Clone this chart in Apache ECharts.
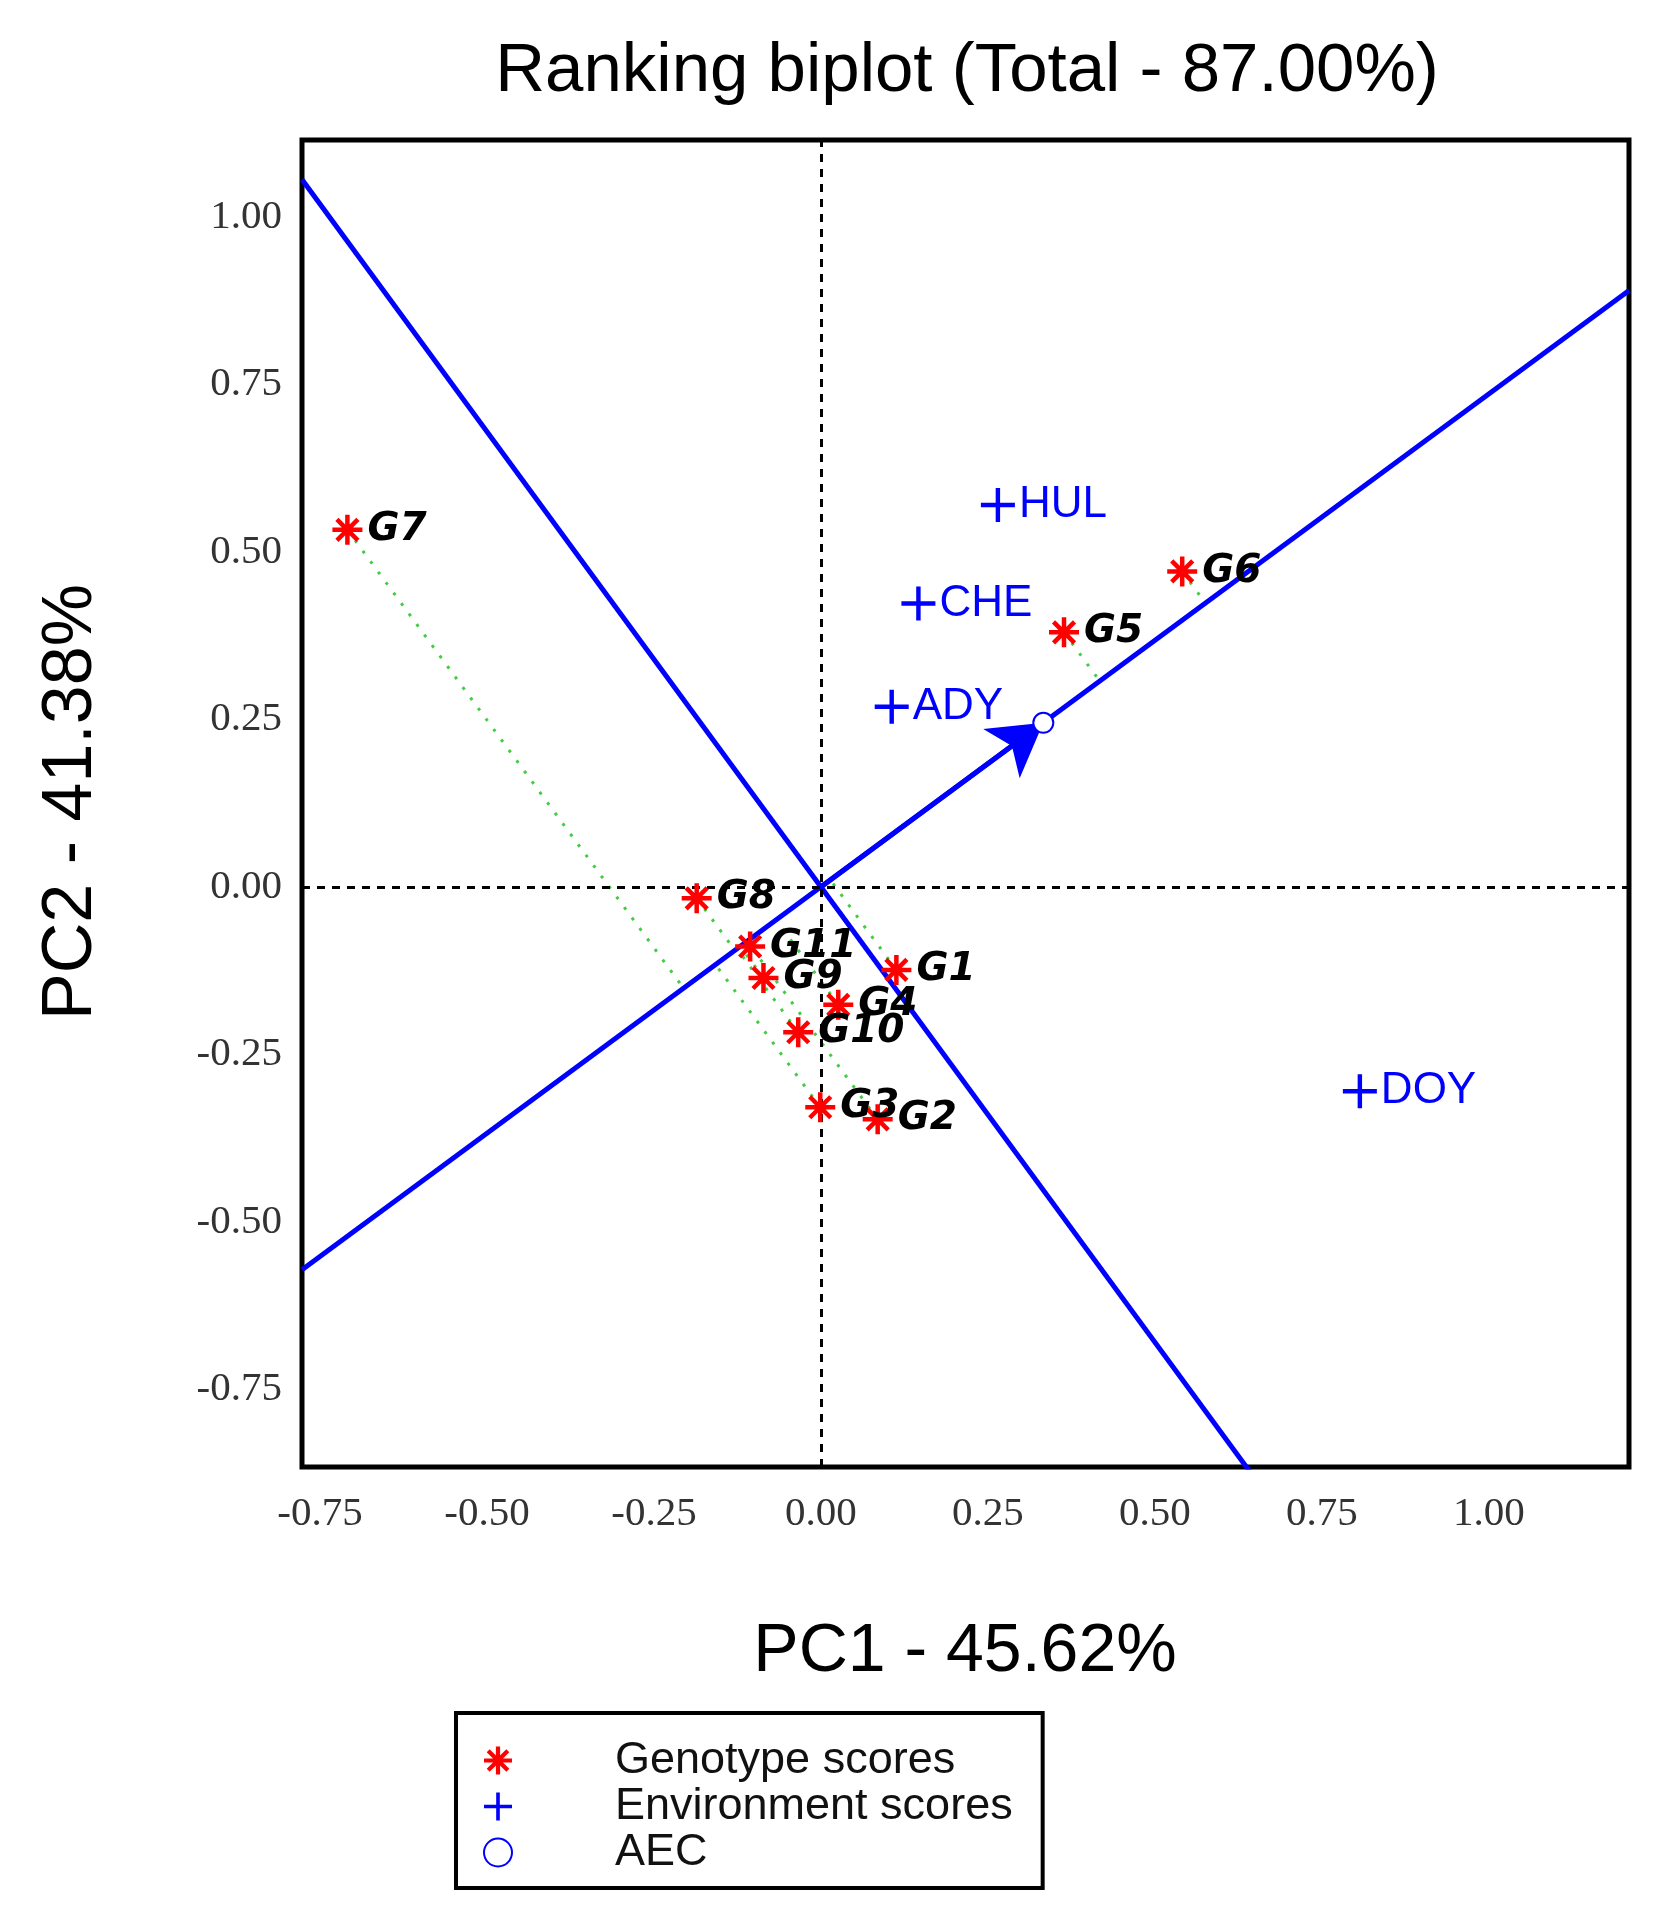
<!DOCTYPE html>
<html>
<head>
<meta charset="utf-8">
<title>Ranking biplot</title>
<script src="https://cdn.jsdelivr.net/npm/echarts@6.0.0/dist/echarts.min.js"></script>
<style>
  html, body { margin: 0; padding: 0; background: #fff; }
  #main { width: 1665px; height: 1916px; }
</style>
</head>
<body>
<div id="main"></div>
<script>
// genotype scores (PC1, PC2)
const genotypeNames = ['G1', 'G2', 'G3', 'G4', 'G5', 'G6', 'G7', 'G8', 'G9', 'G10', 'G11'];
const genotypeX = [0.113, 0.085, -0.001, 0.026, 0.364, 0.541, -0.709, -0.186, -0.086, -0.034, -0.106];
const genotypeY = [-0.124, -0.347, -0.329, -0.176, 0.380, 0.471, 0.533, -0.017, -0.136, -0.217, -0.089];

// environment scores
const envNames = ['HUL', 'CHE', 'ADY', 'DOY'];
const envX = [0.265, 0.146, 0.106, 0.807];
const envY = [0.570, 0.423, 0.269, -0.305];

// average environment coordinate
const aecPoint = [0.333, 0.245];

// axes
const xRange = [-0.777, 1.21];
const yRange = [-0.866, 1.115];
const xTicks = [-0.75, -0.50, -0.25, 0.00, 0.25, 0.50, 0.75, 1.00];
const yTicks = [-0.75, -0.50, -0.25, 0.00, 0.25, 0.50, 0.75, 1.00];

const starPath = 'path://M0,8.5H20V11.5H0Z M8.5,0H11.5V20H8.5Z M1.94,4.06L4.06,1.94L18.06,15.94L15.94,18.06Z M15.94,1.94L18.06,4.06L4.06,18.06L1.94,15.94Z';
const plusPath = 'path://M8.7,0H11.3V20H8.7Z M0,8.7H20V11.3H0Z';

var myChart = echarts.init(document.getElementById('main'));

// AEC axis slope and the perpendicular through the origin
let slope = aecPoint[1] / aecPoint[0];
let aecLine = [[xRange[0], slope * xRange[0]], [xRange[1], slope * xRange[1]]];
let perpLine = [[xRange[0], -xRange[0] / slope], [xRange[1], -xRange[1] / slope]];

let genoData = [];
let projData = [];
let len = Math.sqrt(aecPoint[0] * aecPoint[0] + aecPoint[1] * aecPoint[1]);
let ux = aecPoint[0] / len, uy = aecPoint[1] / len;
for (let i = 0; i < genotypeNames.length; i++) {
  genoData.push({ name: genotypeNames[i], value: [genotypeX[i], genotypeY[i]] });
  // foot of the perpendicular on the AEC axis
  let d = genotypeX[i] * ux + genotypeY[i] * uy;
  projData.push({ coords: [[genotypeX[i], genotypeY[i]], [d * ux, d * uy]] });
}

let envData = [];
for (let i = 0; i < envNames.length; i++) {
  envData.push({ name: envNames[i], value: [envX[i], envY[i]] });
}

var option = {
  animation: false,
  backgroundColor: '#fff',
  graphic: [
    {
      type: 'text', x: 967, y: 72,
      style: { text: 'Ranking biplot (Total - 87.00%)', fontSize: 69, fontFamily: 'Liberation Sans', fill: '#000',
        textAlign: 'center', textVerticalAlign: 'middle', align: 'center', verticalAlign: 'middle' }
    },
    {
      type: 'text', x: 965, y: 1652,
      style: { text: 'PC1 - 45.62%', fontSize: 68, fontFamily: 'Liberation Sans', fill: '#000',
        textAlign: 'center', textVerticalAlign: 'middle', align: 'center', verticalAlign: 'middle' }
    },
    {
      type: 'text', x: 72, y: 802, rotation: Math.PI / 2,
      style: { text: 'PC2 - 41.38%', fontSize: 70, fontFamily: 'Liberation Sans', fill: '#000',
        textAlign: 'center', textVerticalAlign: 'middle', align: 'center', verticalAlign: 'middle' }
    }
  ],
  grid: {
    left: 302, top: 140, width: 1327, height: 1327,
    show: true, borderColor: '#000', borderWidth: 5, backgroundColor: 'transparent'
  },
  legend: {
    orient: 'vertical',
    left: 456, top: 1713,
    padding: [25, 30, 13, 27],
    itemGap: 1,
    itemWidth: 28, itemHeight: 28,
    borderColor: '#000', borderWidth: 4,
    selectedMode: false,
    textStyle: { fontSize: 45, lineHeight: 45, fontFamily: 'Liberation Sans', color: '#111', padding: [0, 0, 0, 98] },
    data: [
      { name: 'Genotype scores', icon: starPath },
      { name: 'Environment scores', icon: plusPath },
      { name: 'AEC', icon: 'emptyCircle' }
    ]
  },
  xAxis: {
    type: 'value', min: xRange[0], max: xRange[1],
    axisLine: { show: false }, axisTick: { show: false }, splitLine: { show: false },
    axisLabel: {
      customValues: xTicks, margin: 27,
      fontFamily: 'Liberation Serif', fontSize: 41, color: '#333',
      formatter: function (v) { return v.toFixed(2) }
    }
  },
  yAxis: {
    type: 'value', min: yRange[0], max: yRange[1],
    axisLine: { show: false }, axisTick: { show: false }, splitLine: { show: false },
    axisLabel: {
      customValues: yTicks, margin: 20,
      fontFamily: 'Liberation Serif', fontSize: 41, color: '#333',
      formatter: function (v) { return v.toFixed(2) }
    }
  },
  series: [
    {
      // dotted zero lines
      type: 'line', data: [], z: 1, silent: true,
      markLine: {
        silent: true, symbol: 'none', label: { show: false },
        lineStyle: { color: '#000', width: 3, type: [8, 7] },
        data: [{ xAxis: 0 }, { yAxis: 0 }]
      }
    },
    {
      type: 'lines', coordinateSystem: 'cartesian2d', z: 2, silent: true,
      lineStyle: { color: '#44cc44', width: 3, type: [3, 10], opacity: 1 },
      data: projData
    },
    {
      type: 'line', data: aecLine, showSymbol: false, z: 3, silent: true,
      lineStyle: { color: '#0000ff', width: 5 },
      markLine: {
        silent: true, symbol: ['none', 'arrow'], symbolSize: [46, 52],
        label: { show: false },
        lineStyle: { color: '#0000ff', width: 5, type: 'solid' },
        data: [[{ coord: [0, 0] }, { coord: aecPoint }]]
      }
    },
    {
      type: 'line', data: perpLine, showSymbol: false, z: 3, silent: true,
      lineStyle: { color: '#0000ff', width: 5 }
    },
    {
      name: 'Genotype scores', type: 'scatter', z: 5,
      symbol: starPath, symbolSize: 30,
      itemStyle: { color: '#ff0000', opacity: 1 },
      label: {
        show: true, position: 'right', distance: 5, formatter: '{b}',
        fontFamily: 'DejaVu Sans', fontWeight: 'bold', fontStyle: 'italic', fontSize: 39, color: '#000'
      },
      data: genoData
    },
    {
      name: 'Environment scores', type: 'scatter', z: 5,
      symbol: plusPath, symbolSize: 34,
      itemStyle: { color: '#0000ff', opacity: 1 },
      label: {
        show: true, position: 'right', distance: 4, formatter: '{b}',
        fontFamily: 'Liberation Sans', fontSize: 44, color: '#0000ff'
      },
      data: envData
    },
    {
      name: 'AEC', type: 'scatter', z: 6,
      symbol: 'emptyCircle', symbolSize: 20,
      itemStyle: { color: '#0000ff', borderWidth: 2.5, opacity: 1 },
      data: [aecPoint]
    }
  ]
};

myChart.setOption(option);
</script>
</body>
</html>
